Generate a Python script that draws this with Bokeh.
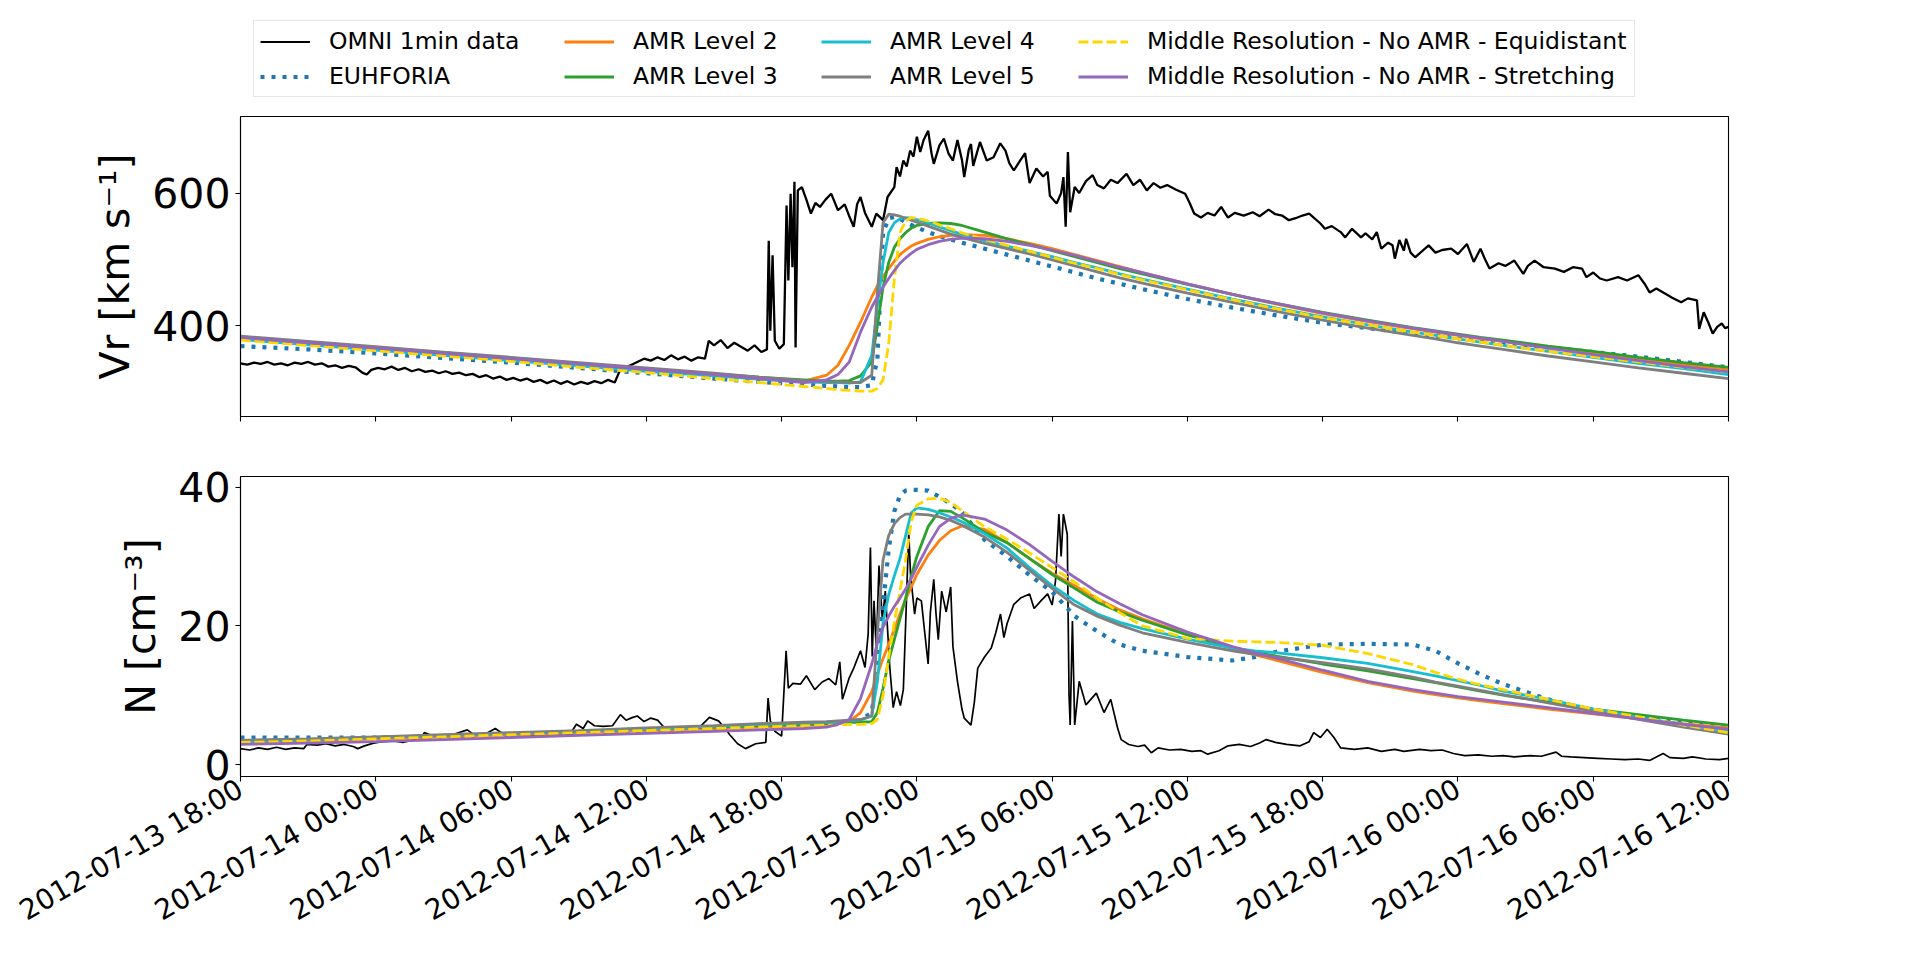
import math
from datetime import datetime, timedelta

from bokeh.plotting import figure
from bokeh.models import Range1d, FixedTicker, DatetimeTickFormatter, Legend, LegendItem
from bokeh.layouts import column
from bokeh.embed import file_html
from bokeh.resources import INLINE

# ---------------------------------------------------------------- data
START = datetime(2012, 7, 13, 18, 0)
END_HOURS = 66
x_tick_hours = [0, 6, 12, 18, 24, 30, 36, 42, 48, 54, 60, 66]

# model time grid (hours after 2012-07-13 18:00)
model_t = [0, 3, 6, 9, 12, 15, 18, 21, 23, 25,
           26, 26.5, 27, 27.5, 28, 28.25, 28.5, 28.75, 29, 29.25,
           29.5, 29.75, 30, 30.5, 31, 31.5, 32, 33, 34, 35,
           36, 37, 38, 39, 40, 42, 44, 45, 46, 48,
           50, 52, 53, 54, 55, 56, 58, 60, 62, 64, 66]

vr_euhforia = [369, 364, 358, 351, 344, 336, 328, 320, 315, 311,
               309, 308, 307, 307, 310, 350, 540, 562, 564, 561,
               556, 552, 548, 541, 535, 530, 525, 516, 507, 498,
               489, 480, 471, 463, 455, 440, 427, 421, 415, 404,
               396, 388, 385, 381, 378, 374, 367, 360, 353, 345, 337]
vr_amr2 = [381, 373, 365, 357, 349, 341, 333, 325, 320, 316,
           325, 340, 370, 405, 443, 460, 474, 486, 497, 507,
           514, 520, 524, 530, 534, 536, 537, 536, 531, 524,
           516, 507, 498, 489, 480, 463, 447, 439, 432, 418,
           406, 395, 390, 385, 380, 376, 367, 358, 349, 341, 333]
vr_amr3 = [383, 375, 367, 359, 351, 343, 335, 327, 322, 318,
           316, 316, 317, 324, 345, 400, 458, 495, 518, 531,
           540, 547, 551, 554, 555, 554, 551, 541, 531, 522,
           513, 504, 495, 486, 478, 462, 447, 440, 433, 420,
           408, 397, 392, 387, 382, 378, 369, 361, 352, 344, 337]
vr_amr4 = [379, 371, 363, 355, 347, 339, 331, 324, 319, 315,
           314, 314, 313, 315, 355, 430, 495, 540, 555, 561,
           563, 562, 560, 555, 549, 543, 538, 528, 520, 512,
           504, 495, 487, 478, 470, 455, 440, 433, 426, 413,
           401, 390, 385, 380, 375, 370, 361, 352, 343, 335, 326]
vr_amr5 = [384, 376, 368, 360, 352, 344, 336, 328, 322, 317,
           315, 315, 314, 314, 325, 450, 555, 568, 567, 565,
           562, 559, 556, 550, 544, 538, 533, 524, 516, 508,
           499, 490, 481, 472, 464, 449, 435, 428, 421, 408,
           396, 385, 380, 374, 369, 364, 354, 345, 336, 328, 320]
vr_equi = [378, 370, 362, 354, 346, 337, 329, 320, 314, 308,
           305, 303, 302, 301, 301, 305, 318, 372, 470, 540,
           558, 563, 562, 558, 552, 546, 540, 530, 521, 512,
           503, 494, 486, 477, 469, 454, 439, 432, 425, 412,
           401, 390, 385, 380, 375, 370, 361, 353, 345, 337, 330]
vr_stretch = [382, 374, 366, 358, 350, 342, 334, 326, 320, 314,
              318, 326, 345, 390, 428, 443, 458, 471, 483, 494,
              502, 509, 515, 522, 527, 530, 532, 531, 527, 521,
              514, 506, 497, 488, 480, 463, 447, 440, 433, 419,
              407, 396, 391, 386, 381, 376, 366, 356, 347, 338, 330]

n_euhforia = [3.9, 3.9, 3.9, 4.0, 4.2, 4.5, 4.9, 5.3, 5.6, 5.9,
              6.0, 6.1, 6.2, 6.4, 7.5, 14.0, 23.0, 31.0, 36.5, 38.8,
              39.5, 39.6, 39.6, 39.5, 38.6, 37.6, 36.4, 32.4, 30.0, 27.3,
              24.9, 21.4, 19.2, 17.3, 16.4, 15.5, 15.0, 15.5, 16.3, 17.3,
              17.4, 17.3, 16.4, 14.6, 13.0, 11.6, 9.4, 7.8, 6.9, 6.1, 5.3]
n_amr2 = [3.2, 3.4, 3.7, 4.0, 4.3, 4.6, 4.9, 5.2, 5.4, 5.6,
          5.8, 5.9, 6.2, 7.5, 10.5, 13.0, 15.3, 17.3, 19.5, 21.7,
          23.8, 25.6, 27.4, 30.2, 32.3, 33.7, 34.4, 33.9, 32.0, 29.7,
          27.6, 25.8, 23.9, 22.3, 21.0, 18.8, 16.7, 15.8, 15.0, 13.3,
          11.8, 10.6, 10.1, 9.6, 9.2, 8.8, 8.0, 7.3, 6.6, 5.9, 5.3]
n_amr3 = [3.3, 3.6, 3.9, 4.2, 4.5, 4.8, 5.1, 5.4, 5.6, 5.8,
          5.9, 6.0, 6.1, 6.1, 6.2, 7.5, 11.0, 15.0, 18.0, 21.0,
          24.0, 27.2, 30.0, 34.3, 36.6, 36.5, 35.6, 33.5, 32.0, 29.7,
          27.4, 25.4, 23.4, 22.0, 20.8, 18.7, 16.9, 16.2, 15.6, 14.5,
          13.5, 12.4, 11.8, 11.2, 10.6, 10.0, 9.0, 8.0, 7.2, 6.4, 5.7]
n_amr4 = [3.3, 3.6, 3.9, 4.2, 4.5, 4.8, 5.1, 5.5, 5.8, 6.0,
          6.1, 6.2, 6.3, 6.4, 7.0, 12.0, 20.5, 24.5, 27.2, 29.7,
          33.0, 36.3, 37.0, 36.8, 36.3, 35.7, 35.0, 33.3, 31.2, 28.4,
          25.8, 23.6, 21.7, 20.5, 19.6, 18.1, 16.8, 16.4, 16.1, 15.4,
          14.6, 13.4, 12.8, 12.1, 11.4, 10.6, 9.4, 8.0, 6.8, 5.8, 4.8]
n_amr5 = [3.5, 3.7, 4.0, 4.3, 4.6, 4.9, 5.3, 5.6, 5.9, 6.1,
          6.2, 6.3, 6.4, 6.5, 7.0, 19.0, 29.5, 33.0, 34.7, 35.6,
          36.1, 36.1, 36.1, 36.0, 35.7, 35.2, 34.5, 32.8, 30.6, 28.0,
          25.4, 23.0, 21.4, 20.1, 19.0, 17.6, 16.4, 15.9, 15.5, 14.7,
          13.8, 12.6, 11.9, 11.3, 10.7, 10.1, 8.9, 7.7, 6.5, 5.4, 4.4]
n_equi = [3.2, 3.4, 3.7, 4.0, 4.3, 4.6, 4.9, 5.2, 5.4, 5.6,
          5.7, 5.7, 5.8, 5.8, 5.9, 6.5, 10.0, 15.5, 20.5, 25.0,
          29.5, 35.0, 37.4, 38.3, 38.4, 37.8, 36.6, 34.3, 32.5, 30.5,
          28.4, 26.3, 24.0, 21.9, 20.0, 18.2, 17.8, 17.7, 17.6, 17.2,
          16.0, 14.4, 13.3, 12.3, 11.5, 10.8, 9.4, 8.0, 6.9, 5.7, 4.6]
n_stretch = [2.9, 3.1, 3.3, 3.6, 3.9, 4.2, 4.5, 4.8, 5.0, 5.2,
             5.4, 5.8, 6.5, 9.5, 14.5, 17.5, 19.8, 21.4, 22.8, 24.0,
             25.3, 26.8, 28.5, 31.6, 34.3, 35.5, 36.0, 35.4, 33.8, 31.7,
             29.3, 27.0, 24.9, 23.2, 21.6, 19.1, 17.0, 16.1, 15.3, 13.6,
             12.0, 10.8, 10.3, 9.8, 9.4, 9.0, 8.2, 7.4, 6.6, 5.8, 5.1]

omni_vr_t = [0, 0.3, 0.6, 0.9, 1.2, 1.5, 1.8, 2.1, 2.4, 2.7, 3.0, 3.3, 3.6, 3.9, 4.2, 4.5, 4.8, 5.1,
             5.4, 5.6, 5.8, 6.1, 6.4, 6.7, 7.0, 7.3, 7.6, 7.9, 8.2, 8.5, 8.8, 9.1, 9.4, 9.7, 10.0,
             10.3, 10.6, 10.9, 11.2, 11.5, 11.8, 12.1, 12.4, 12.7, 13.0, 13.3, 13.6, 13.9, 14.2,
             14.5, 14.8, 15.1, 15.4, 15.7, 16.0, 16.3, 16.6, 16.8, 17.0, 17.3, 17.6, 17.9, 18.2,
             18.5, 18.8, 19.1, 19.4, 19.7, 20.0, 20.3, 20.6, 20.77, 21.0, 21.3, 21.6, 21.9, 22.2,
             22.5, 22.8, 23.1, 23.35, 23.43, 23.5, 23.6, 23.7, 23.9, 24.1, 24.22, 24.3, 24.4, 24.48,
             24.57, 24.62, 24.72, 24.9, 25.1, 25.3, 25.5, 25.7, 25.95, 26.2, 26.5, 26.8, 27.0, 27.2,
             27.35, 27.5, 27.7, 28.0, 28.2, 28.5, 28.7, 29.0, 29.1, 29.25, 29.4, 29.55, 29.7, 29.85,
             30.0, 30.15, 30.3, 30.5, 30.65, 30.75, 31.0, 31.2, 31.4, 31.6, 31.8, 32.0, 32.1, 32.3,
             32.4, 32.5, 32.8, 33.1, 33.4, 33.7, 33.93, 34.1, 34.3, 34.6, 34.8, 35.0, 35.3, 35.6,
             35.8, 35.9, 36.2, 36.4, 36.5, 36.6, 36.7, 36.8, 37.0, 37.2, 37.5, 37.8, 38.0, 38.3,
             38.6, 38.9, 39.3, 39.6, 39.9, 40.2, 40.5, 40.8, 41.1, 41.5, 41.9, 42.1, 42.3, 42.6,
             42.9, 43.2, 43.5, 43.8, 44.1, 44.5, 44.9, 45.2, 45.6, 45.9, 46.2, 46.5, 46.8, 47.1,
             47.4, 47.9, 48.1, 48.4, 48.8, 49.0, 49.3, 49.7, 49.9, 50.2, 50.4, 50.6, 50.9, 51.1,
             51.2, 51.4, 51.6, 51.7, 51.9, 52.1, 52.4, 52.7, 53.0, 53.3, 53.7, 54.0, 54.4, 54.7,
             55.0, 55.2, 55.4, 55.8, 56.1, 56.5, 56.9, 57.1, 57.4, 57.8, 58.3, 58.7, 59.1, 59.5,
             59.7, 60.0, 60.3, 60.6, 61.1, 61.5, 62.0, 62.3, 62.5, 62.8, 63.2, 63.5, 63.9, 64.2,
             64.6, 64.7, 64.9, 65.1, 65.3, 65.5, 65.7, 65.85, 66.0]
omni_vr = [343, 341, 344, 342, 345, 341, 343, 340, 344, 342, 345, 341, 343, 338, 340, 336, 339, 337,
           329, 326, 333, 336, 334, 338, 333, 336, 331, 334, 330, 332, 328, 331, 327, 329, 325,
           327, 322, 325, 320, 323, 318, 321, 317, 320, 315, 318, 313, 317, 312,
           316, 311, 315, 312, 316, 313, 318, 314, 330, 336, 340, 345, 350, 347,
           352, 348, 355, 349, 353, 347, 352, 350, 377, 370, 378, 366, 374, 368,
           362, 370, 360, 364, 528, 392, 506, 377, 365, 372, 581, 468, 599, 488,
           617, 367, 604, 609, 590, 569, 585, 579, 590, 599, 574, 583, 565, 549,
           583, 594, 570, 549, 569, 559, 594, 609, 639, 625, 649, 640, 664, 655,
           685, 662, 680, 694, 660, 644, 672, 682, 660, 649, 680, 650, 624, 665,
           674, 641, 677, 649, 654, 675, 664, 645, 634, 650, 660, 615, 637, 625,
           632, 596, 584, 600, 624, 549, 662, 571, 609, 600, 618, 627, 612, 607,
           620, 615, 629, 612, 620, 604, 615, 608, 612, 605, 599, 585, 569, 563,
           570, 566, 579, 563, 570, 566, 571, 565, 575, 568, 566, 559, 562, 566,
           569, 554, 546, 550, 541, 533, 546, 533, 539, 530, 541, 516, 525, 521,
           501, 529, 513, 531, 510, 503, 512, 521, 510, 514, 516, 508, 523, 496,
           516, 500, 486, 494, 490, 498, 478, 490, 498, 488, 486, 481, 488, 486,
           473, 480, 471, 468, 473, 468, 476, 462, 450, 456, 448, 442, 435, 441,
           438, 395, 420, 405, 388, 398, 403, 396, 398]

omni_n_t = [0, 0.4, 0.8, 1.2, 1.6, 2.0, 2.4, 2.8, 2.95, 3.4, 3.8, 4.2, 4.6, 5.0, 5.2, 5.5, 5.9,
            6.3, 6.8, 7.2, 7.6, 8.0, 8.15, 8.5, 9.0, 9.5, 10.06, 10.4, 10.8, 11.3, 11.7, 12.2,
            12.7, 13.2, 13.7, 14.2, 14.6, 14.9, 15.2, 15.4, 15.7, 16.1, 16.5, 16.85, 17.1, 17.4,
            17.6, 17.9, 18.2, 18.5, 18.8, 19.2, 19.6, 20.0, 20.4, 20.8, 21.2, 21.5, 21.7, 22.05,
            22.4, 22.85, 23.3, 23.4, 23.5, 23.7, 24.0, 24.2, 24.3, 24.5, 24.84, 25.1, 25.47, 25.8,
            26.1, 26.4, 26.58, 26.7, 27.0, 27.2, 27.5, 27.7, 27.84, 27.94, 28.02, 28.1, 28.2,
            28.32, 28.47, 28.6, 28.8, 28.95, 29.1, 29.27, 29.4, 29.5, 29.64, 29.72, 29.9, 30.0,
            30.2, 30.35, 30.5, 30.6, 30.75, 30.85, 30.95, 31.1, 31.3, 31.5, 31.6, 31.8, 32.0,
            32.1, 32.4, 32.55, 32.7, 33.0, 33.3, 33.5, 33.71, 33.86, 34.0, 34.3, 34.6, 35.0,
            35.2, 35.5, 35.8, 36.0, 36.15, 36.3, 36.4, 36.5, 36.67, 36.75, 36.8, 36.9, 37.0,
            37.2, 37.5, 37.96, 38.3, 38.6, 38.9, 39.06, 39.4, 39.8, 40.1, 40.4, 40.7, 41.2,
            41.7, 42.2, 42.6, 42.9, 43.4, 43.8, 44.3, 44.8, 45.2, 45.5, 45.9, 46.4, 47.0, 47.4,
            47.6, 47.9, 48.2, 48.5, 48.8, 49.4, 50.0, 50.6, 51.2, 51.6, 52.3, 52.8, 53.3, 53.8,
            54.3, 54.9, 55.5, 56.0, 56.5, 57.2, 57.7, 58.35, 58.6, 59.0, 59.6, 60.2, 60.8, 61.4,
            62.0, 62.5, 63.1, 63.4, 64.0, 64.4, 65.0, 65.6, 66.0]
omni_n = [2.3, 2.1, 2.4, 2.2, 2.5, 2.2, 2.4, 2.3, 2.9, 2.8, 3.0, 2.7, 2.9, 2.6, 2.3, 2.7, 3.1,
          3.3, 3.4, 3.2, 3.5, 3.7, 4.6, 4.2, 4.1, 4.4, 5.0, 4.2, 4.3, 5.2, 4.3, 4.4,
          4.1, 4.3, 4.2, 4.5, 4.3, 5.8, 5.2, 6.3, 5.6, 5.5, 5.6, 7.2, 6.4, 6.8,
          7.0, 6.2, 6.7, 6.4, 5.3, 5.0, 5.4, 5.1, 5.5, 6.8, 6.3, 5.2, 4.3, 3.0,
          2.3, 3.0, 3.2, 9.6, 6.3, 4.8, 4.1, 16.4, 11.0, 11.7, 11.6, 12.8, 10.8, 11.9,
          12.4, 11.5, 14.8, 9.4, 12.5, 13.9, 16.4, 14.0, 18.8, 31.3, 15.6, 23.6, 16.5,
          28.7, 20.8, 25.0, 14.0, 8.2, 10.5, 8.5, 10.8, 20.0, 33.5, 27.4, 21.7, 24.0,
          23.6, 19.0, 14.5, 22.0, 26.7, 21.7, 18.0, 25.0, 22.0, 25.6, 17.0, 12.0, 8.0,
          6.7, 5.7, 9.0, 13.9, 15.5, 16.8, 19.0, 21.7, 18.3, 20.3, 23.1, 24.0, 24.6,
          22.5, 23.6, 24.6, 23.0, 26.5, 36.1, 30.0, 36.1, 33.2, 10.0, 5.7, 20.7, 5.7,
          12.0, 8.6, 10.3, 7.5, 9.4, 5.3, 3.6, 2.9, 2.6, 2.8, 1.7, 2.4, 2.1,
          2.2, 1.9, 2.0, 1.5, 2.0, 2.7, 2.9, 2.6, 3.1, 3.6, 3.2, 2.9, 2.7, 3.3,
          4.6, 3.9, 5.1, 3.9, 2.4, 2.2, 2.4, 1.9, 2.2, 1.9, 2.2, 2.0, 2.1, 1.6,
          1.3, 1.4, 1.2, 1.3, 1.1, 1.3, 1.2, 1.8, 1.2, 1.1, 1.0, 0.9, 0.8, 0.7,
          0.8, 0.6, 1.6, 1.0, 0.9, 1.1, 0.8, 0.7, 0.9]

omni_name = "OMNI 1min data"
series_names = ["EUHFORIA", "AMR Level 2", "AMR Level 3", "AMR Level 4", "AMR Level 5",
                "Middle Resolution - No AMR - Equidistant",
                "Middle Resolution - No AMR - Stretching"]
series_vr = [vr_euhforia, vr_amr2, vr_amr3, vr_amr4, vr_amr5, vr_equi, vr_stretch]
series_n = [n_euhforia, n_amr2, n_amr3, n_amr4, n_amr5, n_equi, n_stretch]

# ---------------------------------------------------------------- styles
FONT = "DejaVu Sans"
omni_style = dict(line_color="black", line_width=2.3)
series_style = [
    dict(line_color="#1f77b4", line_width=4.2, line_dash="4 7", line_cap="butt"),
    dict(line_color="#ff7f0e", line_width=2.8),
    dict(line_color="#2ca02c", line_width=2.8),
    dict(line_color="#17becf", line_width=2.8),
    dict(line_color="#7f7f7f", line_width=2.8),
    dict(line_color="#ffd700", line_width=2.8, line_dash="10 4", line_cap="butt"),
    dict(line_color="#9467bd", line_width=2.8),
]


def hours_to_dt(hours):
    return [START + timedelta(hours=h) for h in hours]


def ms(dt):
    return (dt - datetime(1970, 1, 1)).total_seconds() * 1000.0


X0 = START
X1 = START + timedelta(hours=END_HOURS)
tick_ms = [ms(START + timedelta(hours=h)) for h in x_tick_hours]
fmt = "%Y-%m-%d %H:%M"
dt_formatter = DatetimeTickFormatter(milliseconds=fmt, seconds=fmt, minsec=fmt, minutes=fmt,
                                     hourmin=fmt, hours=fmt, days=fmt, months=fmt, years=fmt)

W = 1880
FRAME_W = 1488
FRAME_H = 300
LEFT = 240
RIGHT = W - LEFT - FRAME_W
LEG_H = 106          # height of the strip that holds the legend
GAP_TOP = 10         # p1 border above its frame -> frame top at 116


def style(p, yticks):
    p.grid.visible = False
    p.outline_line_color = "black"
    p.outline_line_width = 1.1
    p.outline_line_alpha = 1.0
    p.background_fill_color = "white"
    p.border_fill_color = "white"
    p.xaxis.ticker = FixedTicker(ticks=tick_ms)
    p.xaxis.formatter = dt_formatter
    p.yaxis.ticker = FixedTicker(ticks=yticks)
    for ax in p.xaxis + p.yaxis:
        ax.axis_line_color = "black"
        ax.axis_line_width = 1.1
        ax.major_tick_line_color = "black"
        ax.major_tick_line_width = 1.1
        ax.major_tick_out = 5
        ax.major_tick_in = 0
        ax.minor_tick_line_color = None
        ax.major_label_text_font = FONT
        ax.major_label_text_color = "black"
        ax.axis_label_text_font = FONT
        ax.axis_label_text_font_style = "normal"
        ax.axis_label_text_color = "black"
    p.yaxis.major_label_text_font_size = "41px"
    p.yaxis.axis_label_text_font_size = "41px"
    p.yaxis.major_label_standoff = 5
    p.yaxis.axis_label_standoff = 10


# legend strip: its own small canvas above the two panels.
# Its y range keeps the key lines (same data) out of view; only the legend shows.
p0 = figure(width=W, height=LEG_H, x_axis_type="datetime",
            x_range=Range1d(X0, X1), y_range=Range1d(-3000, -2000),
            output_backend="svg", toolbar_location=None,
            x_axis_location=None, y_axis_location=None,
            min_border_left=LEFT, min_border_right=RIGHT, min_border_top=0, min_border_bottom=0)
p0.grid.visible = False
p0.outline_line_color = None
p0.background_fill_color = "white"
p0.border_fill_color = "white"

p1 = figure(width=W, height=GAP_TOP + FRAME_H + 30, x_axis_type="datetime",
            x_range=p0.x_range, y_range=Range1d(262.7, 715.5),
            output_backend="svg", toolbar_location=None,
            min_border_left=LEFT, min_border_right=RIGHT, min_border_top=GAP_TOP,
            min_border_bottom=30)
p2 = figure(width=W, height=30 + FRAME_H + 180, x_axis_type="datetime",
            x_range=p0.x_range, y_range=Range1d(-1.72, 41.53),
            output_backend="svg", toolbar_location=None,
            min_border_left=LEFT, min_border_right=RIGHT, min_border_top=30,
            min_border_bottom=180)

style(p1, [400, 600])
style(p2, [0, 20, 40])
p1.yaxis.axis_label = "Vr [km s\u207b\u00b9]"
p2.yaxis.axis_label = "N [cm\u207b\u00b3]"
# upper panel shares the time axis: tick marks only, no tick labels
p1.xaxis.major_label_text_font_size = "10px"
p1.xaxis.major_label_text_color = None
p2.xaxis.major_label_text_font_size = "28px"
p2.xaxis.major_label_orientation = math.pi / 6

# ---------------------------------------------------------------- glyphs
p1.line(hours_to_dt(omni_vr_t), omni_vr, **omni_style)
p2.line(hours_to_dt(omni_n_t), omni_n, line_color="black", line_width=1.7)
mt = hours_to_dt(model_t)
for vr, n, st in zip(series_vr, series_n, series_style):
    p1.line(mt, vr, **st)
    p2.line(mt, n, **st)

# legend keys in the strip (same series, outside the strip's y range)
key_omni = p0.line(hours_to_dt(omni_vr_t), omni_vr, line_color="black", line_width=2.0)
keys = [p0.line(mt, vr, **st) for vr, st in zip(series_vr, series_style)]

leg_common = dict(orientation="vertical", nrows=2,
                  label_text_font=FONT, label_text_font_size="23.5px",
                  label_text_color="black",
                  glyph_width=50, glyph_height=27, label_height=27,
                  label_standoff=19, spacing=7, padding=6, margin=0)
# first column + frame spanning the whole legend width (x offsets from the frame's left edge)
legend_a = Legend(items=[LegendItem(label=omni_name, renderers=[key_omni]),
                         LegendItem(label=series_names[0], renderers=[keys[0]])],
                  location=(13, 9), label_width=1299,
                  border_line_color="#cccccc", border_line_width=1.2,
                  background_fill_color="white", background_fill_alpha=1.0,
                  **leg_common)
# remaining three columns, drawn inside the same frame
legend_b = Legend(items=[LegendItem(label=nm, renderers=[k])
                         for nm, k in zip(series_names[1:], keys[1:])],
                  location=(324, 16), label_width=181,
                  border_line_color=None, background_fill_alpha=0.0,
                  **leg_common)
p0.add_layout(legend_a)
p0.add_layout(legend_b)

layout = column(p0, p1, p2, spacing=0)
open("out.html", "w").write(file_html(layout, INLINE))
